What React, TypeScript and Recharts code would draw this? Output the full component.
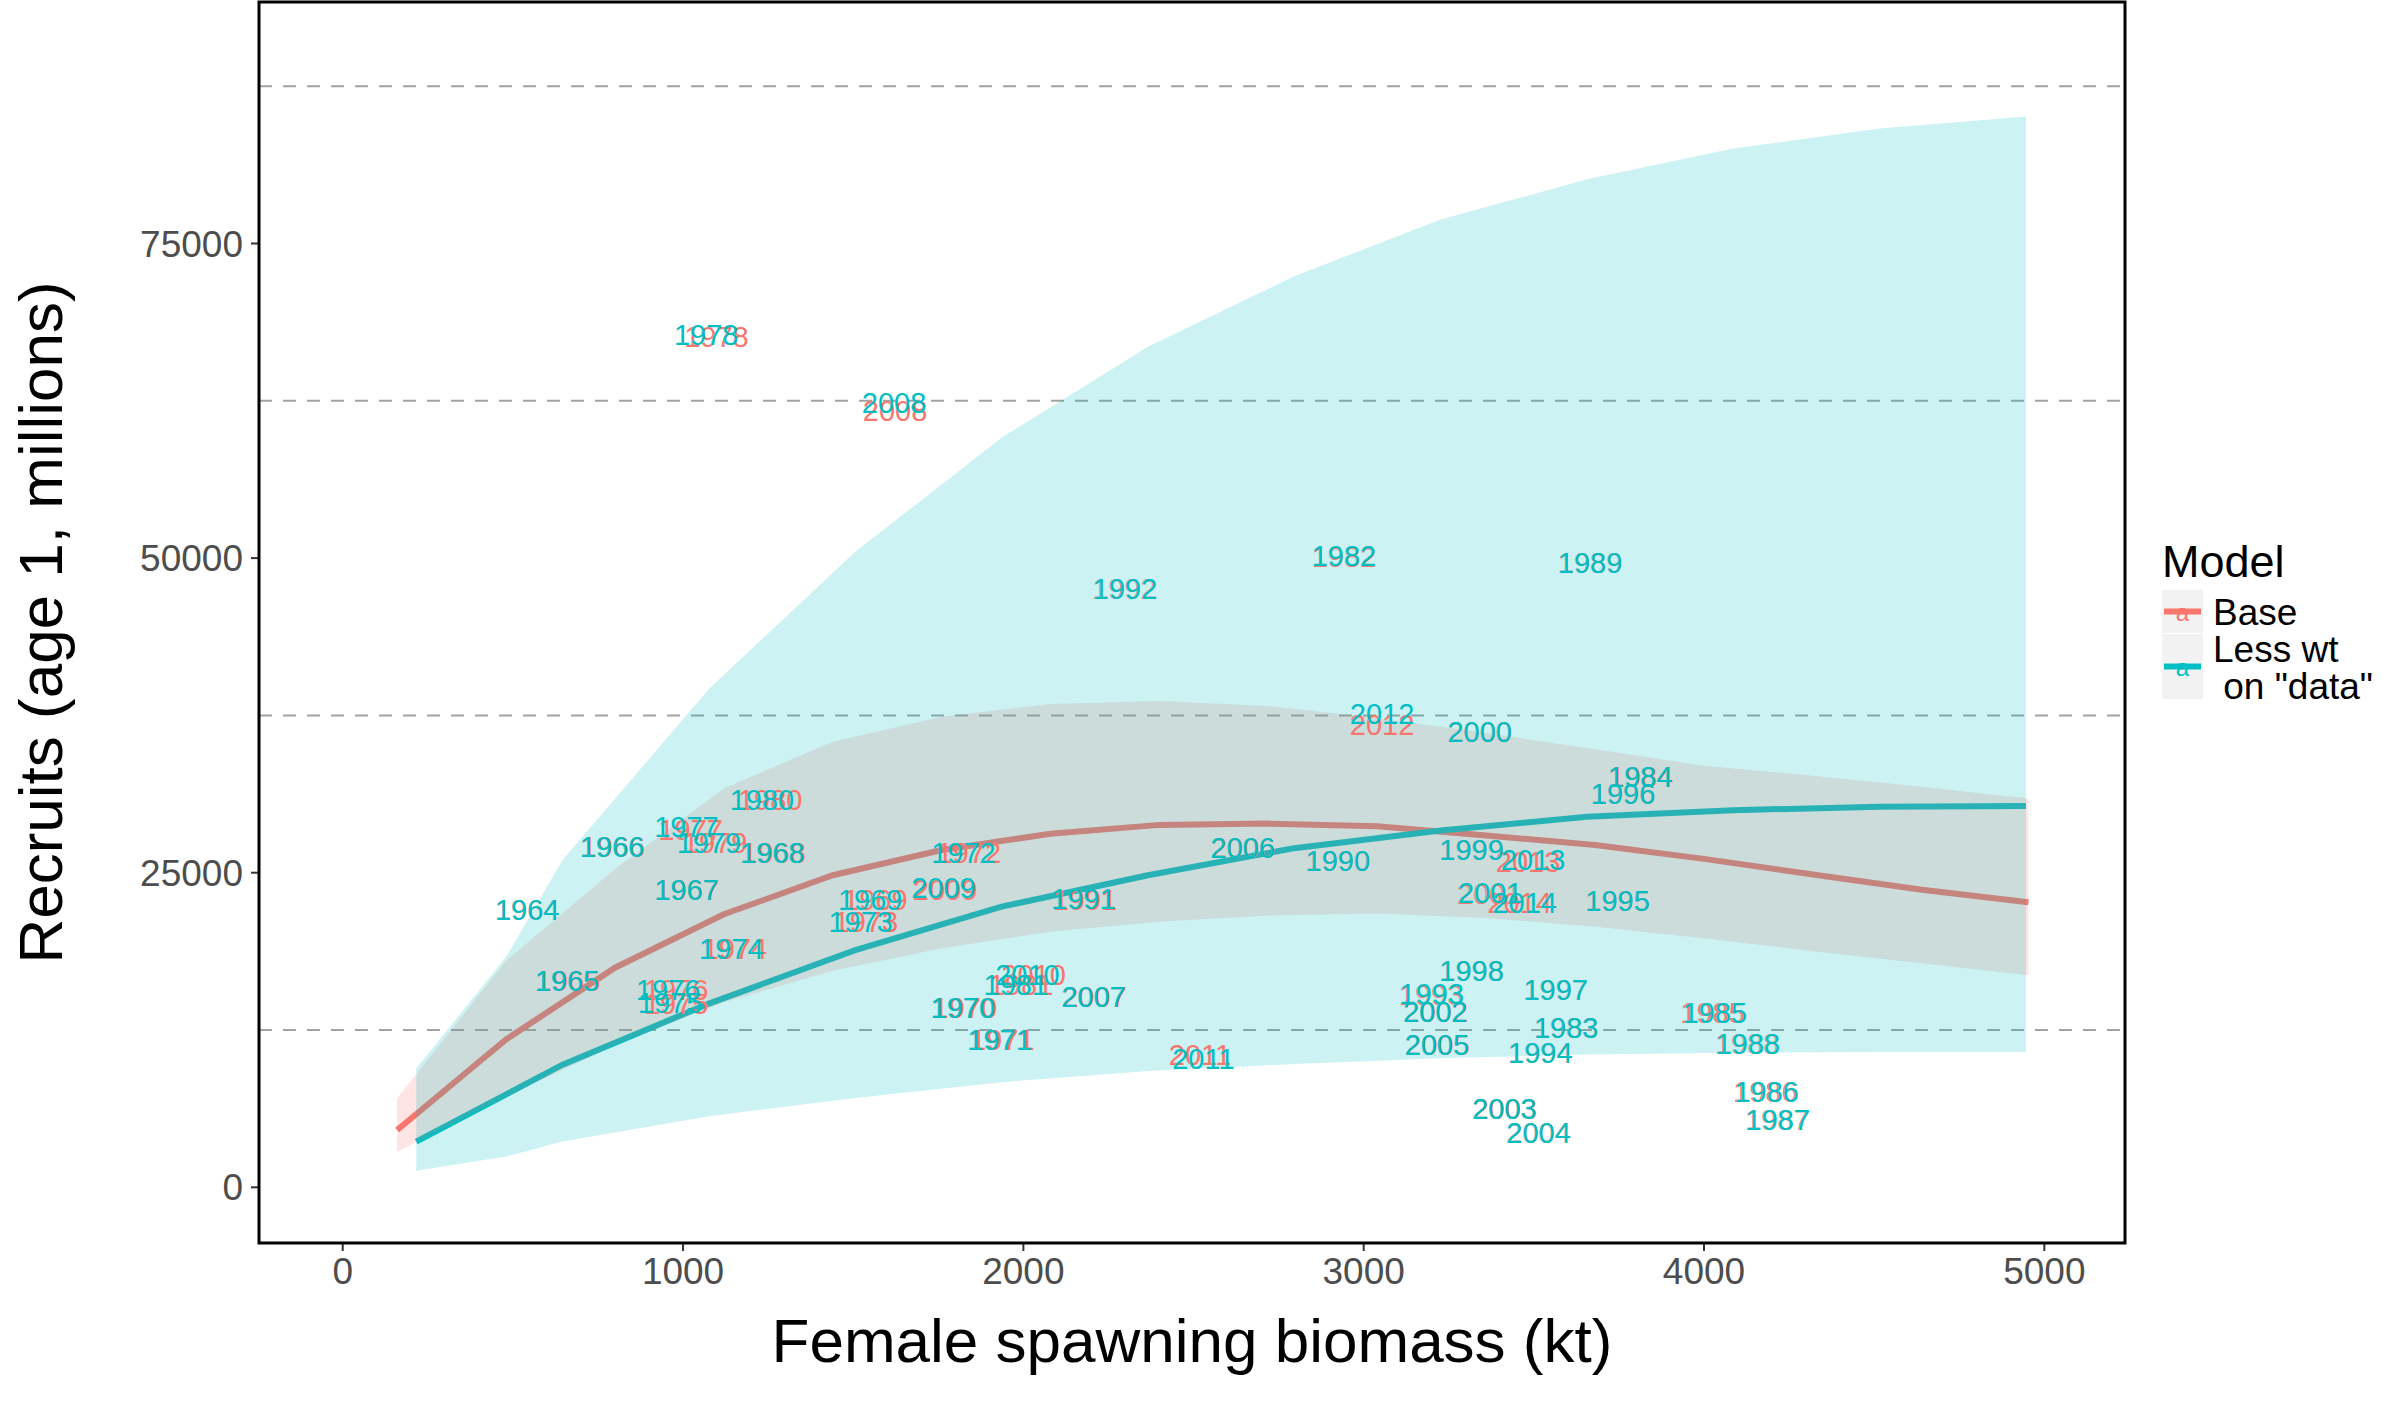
import React from 'react';
import { ComposedChart, Line, Area, Scatter, XAxis, YAxis, CartesianGrid } from 'recharts';

const RED = '#F8766D';
const TEAL = '#00BFC4';
const FONT = '"Liberation Sans", Arial, Helvetica, sans-serif';

// fitted stock-recruit curves and their bands
const baseFitSsb = [160, 480, 800, 1120, 1440, 1760, 2080, 2400, 2720, 3040, 3360, 3680, 4000, 4320, 4640, 4953];
const baseFitRec = [4550, 11750, 17450, 21700, 24800, 26800, 28100, 28800, 28900, 28700, 27950, 27200, 26100, 24850, 23650, 22650];
const baseLow = [2830, 7200, 11300, 14700, 17200, 19000, 20300, 21100, 21600, 21750, 21400, 20700, 19800, 18750, 17800, 16860];
const baseHigh = [7070, 18000, 25300, 31700, 35400, 37400, 38400, 38650, 38250, 37300, 36100, 34800, 33500, 32700, 31830, 30900];

const lessFitSsb = [216, 646, 1076, 1506, 1936, 2366, 2796, 3226, 3656, 4086, 4516, 4946];
const lessFitRec = [3630, 9750, 14600, 18850, 22300, 24800, 26950, 28350, 29450, 29960, 30250, 30300];
const lessBandSsb = [216, 480, 646, 1076, 1506, 1936, 2366, 2796, 3226, 3656, 4086, 4516, 4946];
const lessLow = [1320, 2440, 3630, 5650, 7100, 8350, 9250, 9800, 10250, 10550, 10700, 10750, 10750];
const lessHigh = [9450, 18300, 26000, 39600, 50500, 59560, 66800, 72400, 76900, 80100, 82550, 84130, 85100];

// year labels (SSB, recruits) per model
const years = [
  1964, 1965, 1966, 1967, 1968, 1969, 1970, 1971, 1972, 1973, 1974, 1975, 1976, 1977, 1978, 1979, 1980,
  1981, 1982, 1983, 1984, 1985, 1986, 1987, 1988, 1989, 1990, 1991, 1992, 1993, 1994, 1995, 1996, 1997,
  1998, 1999, 2000, 2001, 2002, 2003, 2004, 2005, 2006, 2007, 2008, 2009, 2010, 2011, 2012, 2013, 2014,
];
const lessSsb = [
  542, 659, 791, 1010, 1262, 1550, 1822, 1930, 1824, 1522, 1142, 962, 956, 1010, 1068, 1076, 1232,
  1978, 2942, 3595, 3812, 4032, 4184, 4217, 4129, 3665, 2924, 2176, 2299, 3200, 3519, 3746, 3762, 3564,
  3317, 3317, 3341, 3372, 3210, 3413, 3514, 3215, 2644, 2206, 1620, 1765, 2012, 2529, 3054, 3498, 3473,
];
const lessRec = [
  22100, 16420, 27070, 23630, 26590, 22830, 14300, 11760, 26590, 21110, 18940, 14670, 15680, 28660, 67800, 27380, 30830,
  16140, 50170, 12710, 32630, 13880, 7600, 5350, 11390, 49670, 25990, 22970, 47590, 15420, 10700, 22780, 31310, 15730,
  17220, 26800, 36200, 23410, 13960, 6280, 4340, 11310, 26970, 15150, 62370, 23780, 16900, 10250, 37670, 26010, 22620,
];
const baseSsb = [
  542, 662, 794, 1012, 1266, 1565, 1828, 1938, 1840, 1537, 1152, 980, 980, 1022, 1098, 1094, 1256,
  1993, 2942, 3595, 3815, 4025, 4180, 4215, 4127, 3665, 2924, 2181, 2297, 3198, 3519, 3746, 3762, 3564,
  3317, 3317, 3341, 3369, 3212, 3415, 3514, 3217, 2646, 2209, 1623, 1770, 2030, 2519, 3054, 3483, 3458,
];
const baseRec = [
  22100, 16420, 27070, 23630, 26590, 22900, 14300, 11760, 26590, 21110, 18940, 14600, 15680, 28400, 67640, 27380, 30830,
  16140, 50100, 12710, 32600, 13880, 7600, 5350, 11390, 49670, 25990, 22840, 47590, 15350, 10700, 22780, 31310, 15730,
  17220, 26800, 36200, 23350, 13960, 6280, 4340, 11310, 26970, 15150, 61700, 23650, 16900, 10520, 36750, 25880, 22590,
];

const xTicks = [0, 1000, 2000, 3000, 4000, 5000];
const yTicks = [0, 25000, 50000, 75000];
const gridValues = [12500, 37500, 62500, 87500];

const W = 2399;
const H = 1418;
const PLOT = { left: 259, top: 2, right: 2125, bottom: 1243 };

const baseLine = baseFitSsb.map((x, i) => ({ x, y: baseFitRec[i] }));
const lessLine = lessFitSsb.map((x, i) => ({ x, y: lessFitRec[i] }));
const baseBand = baseFitSsb.map((x, i) => ({ x, band: [baseLow[i], baseHigh[i]] }));
const lessBand = lessBandSsb.map((x, i) => ({ x, band: [lessLow[i], lessHigh[i]] }));
const basePts = years.map((yr, i) => ({ x: baseSsb[i], y: baseRec[i], year: yr }));
const lessPts = years.map((yr, i) => ({ x: lessSsb[i], y: lessRec[i], year: yr }));

const yearLabel = (color: string) => (props: any) => (
  <text
    x={props.cx}
    y={props.cy}
    dy="0.36em"
    textAnchor="middle"
    fontSize={29}
    fontFamily={FONT}
    fill={color}
  >
    {props.payload.year}
  </text>
);

const XTitle = (props: any) => {
  const vb = props.viewBox || {};
  return (
    <text x={vb.x + vb.width / 2} y={1362} textAnchor="middle" fontSize={62} fontFamily={FONT} fill="#000">
      Female spawning biomass (kt)
    </text>
  );
};

const YTitle = (props: any) => {
  const vb = props.viewBox || {};
  const cy = vb.y + vb.height / 2;
  return (
    <text
      transform={`translate(62,${cy}) rotate(-90)`}
      textAnchor="middle"
      fontSize={62}
      fontFamily={FONT}
      fill="#000"
    >
      Recruits (age 1, millions)
    </text>
  );
};

const LegendKey = ({ y, h, color }: { y: number; h: number; color: string }) => (
  <g>
    <rect x={2162} y={y} width={41} height={h} fill="#F2F2F2" />
    <line x1={2164} x2={2201} y1={y + h / 2} y2={y + h / 2} stroke={color} strokeWidth={6} />
    <text x={2182.5} y={y + h / 2 + 9} textAnchor="middle" fontSize={24} fontFamily={FONT} fill={color}>
      a
    </text>
  </g>
);

export default function App() {
  return (
    <div style={{ position: 'absolute', left: 0, top: 0, width: W, height: H, background: '#fff' }}>
      <ComposedChart
        width={W}
        height={H}
        margin={{ top: PLOT.top, right: W - PLOT.right, bottom: 0, left: 0 }}
        style={{ fontFamily: FONT }}
      >
        <CartesianGrid
          vertical={false}
          horizontalValues={gridValues}
          stroke="#A3A3A3"
          strokeWidth={2}
          strokeDasharray="13 11"
        />
        <XAxis
          type="number"
          dataKey="x"
          domain={[-246, 5237]}
          allowDataOverflow
          ticks={xTicks}
          height={H - PLOT.bottom}
          axisLine={false}
          tickSize={8}
          tickMargin={7}
          tickLine={{ stroke: '#333', strokeWidth: 2 }}
          tick={{ fill: '#4D4D4D', fontSize: 37, fontFamily: FONT }}
          label={<XTitle />}
        />
        <YAxis
          type="number"
          dataKey="y"
          domain={[-4426, 94190]}
          allowDataOverflow
          ticks={yTicks}
          width={PLOT.left}
          axisLine={false}
          tickSize={8}
          tickMargin={8}
          tickLine={{ stroke: '#333', strokeWidth: 2 }}
          tick={{ fill: '#4D4D4D', fontSize: 37, fontFamily: FONT }}
          label={<YTitle />}
        />
        <Line data={baseLine} dataKey="y" type="linear" stroke={RED} strokeWidth={6} dot={false} activeDot={false} isAnimationActive={false} zIndex={50} />
        <Line data={lessLine} dataKey="y" type="linear" stroke={TEAL} strokeWidth={6} dot={false} activeDot={false} isAnimationActive={false} zIndex={50} />
        <Area data={baseBand} dataKey="band" type="linear" stroke="none" fill={RED} fillOpacity={0.2} activeDot={false} isAnimationActive={false} zIndex={100} />
        <Area data={lessBand} dataKey="band" type="linear" stroke="none" fill={TEAL} fillOpacity={0.2} activeDot={false} isAnimationActive={false} zIndex={101} />
        <Scatter data={basePts} dataKey="y" shape={yearLabel(RED)} isAnimationActive={false} zIndex={600} />
        <Scatter data={lessPts} dataKey="y" shape={yearLabel(TEAL)} isAnimationActive={false} zIndex={601} />
      </ComposedChart>
      <svg
        width={W}
        height={H}
        style={{ position: 'absolute', left: 0, top: 0, pointerEvents: 'none' }}
      >
        <rect
          x={PLOT.left}
          y={PLOT.top}
          width={PLOT.right - PLOT.left}
          height={PLOT.bottom - PLOT.top}
          fill="none"
          stroke="#000"
          strokeWidth={3}
        />
        <text x={2162} y={577} fontSize={45} fontFamily={FONT} fill="#000">Model</text>
        <LegendKey y={590} h={43} color={RED} />
        <text x={2213} y={625} fontSize={37} fontFamily={FONT} fill="#000">Base</text>
        <LegendKey y={634} h={65} color={TEAL} />
        <text x={2213} y={662} fontSize={37} fontFamily={FONT} fill="#000">Less wt</text>
        <text x={2213} y={699} fontSize={37} fontFamily={FONT} fill="#000" style={{ whiteSpace: 'pre' }}>
          {' on "data"'}
        </text>
      </svg>
    </div>
  );
}
